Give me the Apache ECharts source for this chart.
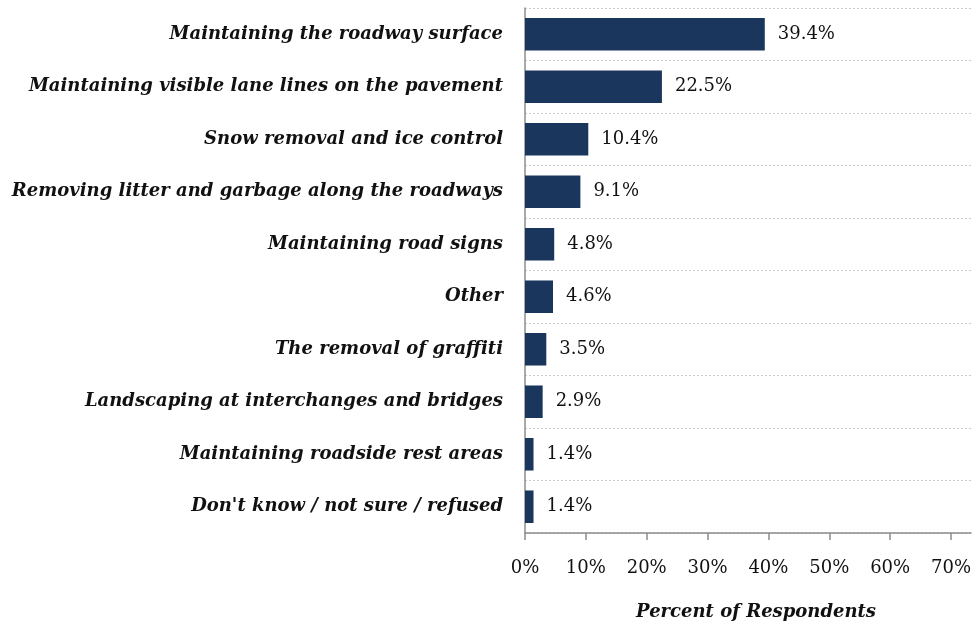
<!DOCTYPE html>
<html>
<head>
<meta charset="utf-8">
<script src="https://cdn.jsdelivr.net/npm/echarts@6/dist/echarts.min.js"></script>
<style>
  html, body { margin: 0; padding: 0; background: #ffffff; }
  #chart { width: 974px; height: 626px; }
</style>
</head>
<body>
<div id="chart"></div>
<script>
// Survey responses: most important highway maintenance priority
const categories = [
  'Maintaining the roadway surface',
  'Maintaining visible lane lines on the pavement',
  'Snow removal and ice control',
  'Removing litter and garbage along the roadways',
  'Maintaining road signs',
  'Other',
  'The removal of graffiti',
  'Landscaping at interchanges and bridges',
  'Maintaining roadside rest areas',
  "Don't know / not sure / refused"
];
const percents = [39.4, 22.5, 10.4, 9.1, 4.8, 4.6, 3.5, 2.9, 1.4, 1.4];
const tickValues = [0, 10, 20, 30, 40, 50, 60, 70];

const serif = '"DejaVu Serif", "Liberation Serif", serif';
const chart = echarts.init(document.getElementById('chart'), null, { renderer: 'canvas' });

chart.setOption({
  animation: false,
  grid: { left: 525, right: 0, top: 8, bottom: 86, containLabel: false },
  xAxis: {
    type: 'value',
    min: 0,
    max: 73.3,
    interval: 10,
    name: 'Percent of Respondents',
    nameLocation: 'middle',
    nameGap: 70,
    nameTextStyle: {
      fontFamily: serif, fontSize: 18, fontStyle: 'italic', fontWeight: 'bold',
      color: '#111', padding: [0, 0, 0, 16]
    },
    axisLine: { show: true, lineStyle: { color: '#8c8c8c', width: 1.5 } },
    axisTick: { show: true, length: 7, customValues: tickValues, lineStyle: { color: '#8c8c8c', width: 1.5 } },
    axisLabel: {
      customValues: tickValues,
      formatter: v => v + '%',
      fontFamily: serif, fontSize: 18, color: '#111', margin: 26
    },
    splitLine: { show: false }
  },
  yAxis: {
    type: 'category',
    inverse: true,
    data: categories,
    axisLine: { show: true, lineStyle: { color: '#8c8c8c', width: 1.5 } },
    axisTick: { show: false },
    axisLabel: {
      fontFamily: serif, fontSize: 18, fontStyle: 'italic', fontWeight: 'bold',
      color: '#111', margin: 22
    },
    splitLine: { show: true, lineStyle: { color: '#cccccc', type: [2, 2], width: 1 } }
  },
  series: [{
    type: 'bar',
    data: percents,
    barWidth: '62%',
    itemStyle: { color: '#1a365d' },
    label: {
      show: true,
      position: 'right',
      distance: 13,
      formatter: p => p.value.toFixed(1) + '%',
      fontFamily: serif, fontSize: 18, color: '#111'
    }
  }]
});
</script>
</body>
</html>
